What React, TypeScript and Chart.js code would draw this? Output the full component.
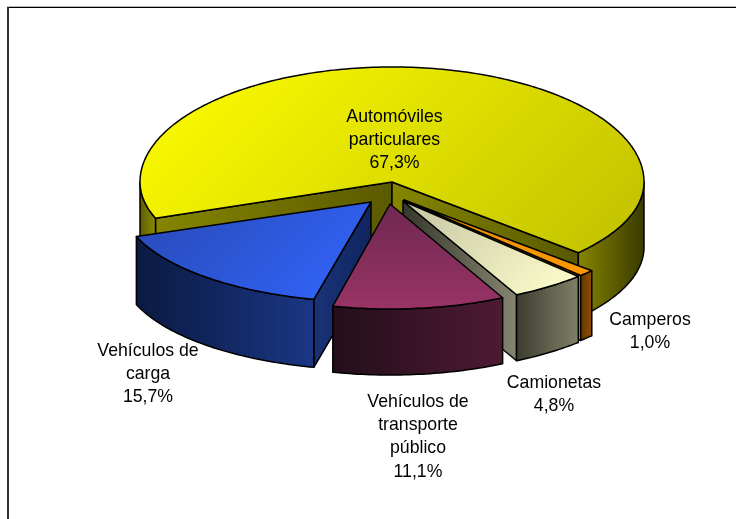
import React, { useEffect, useRef } from "react";
import { Chart, registerables } from "chart.js";

Chart.register(...registerables);

const categories = ["Automóviles particulares", "Camperos", "Camionetas", "Vehículos de transporte público", "Vehículos de carga"];
const shares = [67.3, 1.0, 4.8, 11.1, 15.7];
const labelLines = [["Automóviles", "particulares"], ["Camperos"], ["Camionetas"], ["Vehículos de", "transporte", "público"], ["Vehículos de", "carga"]];
const baseColors = ["#ffff00", "#ff9900", "#ffffcc", "#993366", "#3366ff"];

const FONT = '17.7px "Liberation Sans", Arial, sans-serif';
const LINE_H = 23.4;
const labelPos = [
  { x: 394.5, y: 121.5 },
  { x: 650, y: 325 },
  { x: 554, y: 388 },
  { x: 418, y: 406.5 },
  { x: 148, y: 355.5 },
];

type Pair = [string, string];
type Look = {
  cx: number; cy: number; a: number; b: number; back: number; h: number; vertical?: boolean;
  top: Pair; outer: Pair; outerLeft?: Pair; wallA: Pair; wallB: Pair;
};
const looks: Look[] = [
  { cx: 392, cy: 182, a: 252, b: 105, back: 115, h: 65, top: ["#ffff00", "#c0c000"], outer: ["#858500", "#3a3a00"], outerLeft: ["#5e5e00", "#8b8b00"], wallA: ["#858500", "#5a5a00"], wallB: ["#858500", "#595900"] },
  { cx: 404, cy: 200, a: 254, b: 105, back: 105, h: 65, top: ["#e08a10", "#ff9900"], outer: ["#663300", "#8f5000"], wallA: ["#555555", "#777777"], wallB: ["#5c4210", "#e08800"] },
  { cx: 403, cy: 201, a: 252, b: 105, back: 105, h: 66, top: ["#c4c4a4", "#ffffcc"], outer: ["#3c3c30", "#808066"], wallA: ["#777760", "#777760"], wallB: ["#36382c", "#858570"] },
  { cx: 390, cy: 204, a: 250, b: 105, back: 105, h: 66, vertical: true, top: ["#6e2850", "#993366"], outer: ["#240e1a", "#4d1a33"], wallA: ["#333333", "#333333"], wallB: ["#333333", "#333333"] },
  { cx: 371, cy: 202, a: 250, b: 100, back: 100, h: 68, top: ["#2849b4", "#3366ff"], outer: ["#0a1a42", "#1b3684"], wallA: ["#1a3378", "#102560"], wallB: ["#0d2050", "#1a3378"] },
];
const drawOrder = [0, 4, 1, 2, 3];

function pt(s: Look, t: number, z: number): [number, number] {
  const sin = Math.sin(t);
  return [s.cx + s.a * Math.cos(t), s.cy + (sin < 0 ? s.back : s.b) * sin + z];
}

function fillShape(ctx: CanvasRenderingContext2D, pts: [number, number][], colors: Pair, mode: "h" | "v" | "d") {
  const xs = pts.map((p) => p[0]);
  const ys = pts.map((p) => p[1]);
  const x0 = Math.min(...xs), x1 = Math.max(...xs), y0 = Math.min(...ys), y1 = Math.max(...ys);
  const L = (x1 - x0 + (y1 - y0)) / 2;
  const g =
    mode === "h"
      ? ctx.createLinearGradient(x0, y0, x1, y0)
      : mode === "v"
      ? ctx.createLinearGradient(x0, y0, x0, y1)
      : ctx.createLinearGradient(x0, y0, x0 + L, y0 + L);
  g.addColorStop(0, colors[0]);
  g.addColorStop(1, colors[1]);
  ctx.beginPath();
  pts.forEach((p, i) => (i ? ctx.lineTo(p[0], p[1]) : ctx.moveTo(p[0], p[1])));
  ctx.closePath();
  ctx.fillStyle = g;
  ctx.fill();
  ctx.lineWidth = 1.5;
  ctx.lineJoin = "round";
  ctx.strokeStyle = "#000";
  ctx.stroke();
}

function arcPts(s: Look, from: number, to: number, z: number) {
  const out: [number, number][] = [];
  const n = Math.max(2, Math.ceil((Math.abs(to - from) * 180) / Math.PI));
  for (let i = 0; i <= n; i++) out.push(pt(s, from + ((to - from) * i) / n, z));
  return out;
}

function drawSlice(ctx: CanvasRenderingContext2D, s: Look, start: number, end: number) {
  const top0: [number, number] = [s.cx, s.cy];
  const bot0: [number, number] = [s.cx, s.cy + s.h];
  const wall = (t: number, colors: Pair) => {
    const a = pt(s, t, 0), b = pt(s, t, s.h);
    fillShape(ctx, [top0, a, b, bot0], colors, "h");
  };
  // A radial wall shows only when the drop below its edge falls outside the slice.
  if (Math.cos(start) < 0) wall(start, s.wallA);
  if (Math.cos(end) > 0) wall(end, s.wallB);
  for (let k = 0; k < 2; k++) {
    const lo = Math.max(start, k * 2 * Math.PI);
    const hi = Math.min(end, Math.PI + k * 2 * Math.PI);
    if (hi > lo) {
      const upper = arcPts(s, lo, hi, 0);
      const lower = arcPts(s, hi, lo, s.h);
      const cols: Pair = k === 0 && s.outerLeft ? s.outerLeft : s.outer;
      fillShape(ctx, [...upper, ...lower], cols, "h");
    }
  }
  fillShape(ctx, [top0, ...arcPts(s, start, end, 0)], s.top, s.vertical ? "v" : "d");
}

const pie3d = {
  id: "pie3d",
  beforeDatasetsDraw(chart: any) {
    const ctx: CanvasRenderingContext2D = chart.ctx;
    ctx.save();
    ctx.fillStyle = "#b8b8b8";
    ctx.fillRect(7, 6, 729, 1);
    ctx.fillStyle = "#000";
    ctx.fillRect(8, 7, 728, 1);
    ctx.fillStyle = "#333";
    ctx.fillRect(7, 7, 2, 512);

    const arcs = chart.getDatasetMeta(0).data;
    drawOrder.forEach((i) => {
      const { startAngle, endAngle } = arcs[i].getProps(["startAngle", "endAngle"], true);
      let a = startAngle, b = endAngle;
      while (a < 0) { a += 2 * Math.PI; b += 2 * Math.PI; }
      drawSlice(ctx, looks[i], a, b);
    });

    ctx.fillStyle = "#000";
    ctx.font = FONT;
    ctx.textAlign = "center";
    ctx.textBaseline = "alphabetic";
    shares.forEach((v, i) => {
      const lines = [...labelLines[i], v.toFixed(1).replace(".", ",") + "%"];
      lines.forEach((l, j) => ctx.fillText(l, labelPos[i].x, labelPos[i].y + j * LINE_H));
    });
    ctx.restore();
    return false;
  },
};

export default function App() {
  const ref = useRef<HTMLCanvasElement | null>(null);
  useEffect(() => {
    const chart = new Chart(ref.current as HTMLCanvasElement, {
      type: "pie",
      data: {
        labels: categories,
        datasets: [{ data: shares, backgroundColor: baseColors, borderColor: "#000", borderWidth: 1 }],
      },
      options: {
        responsive: false,
        animation: false,
        rotation: 249.8,
        events: [],
        plugins: { legend: { display: false }, tooltip: { enabled: false }, title: { display: false } },
      },
      plugins: [pie3d],
    } as any);
    return () => chart.destroy();
  }, []);
  return (
    <canvas
      ref={ref}
      width={736}
      height={519}
      style={{ position: "fixed", left: 0, top: 0, width: 736, height: 519, background: "#fff" }}
    />
  );
}
